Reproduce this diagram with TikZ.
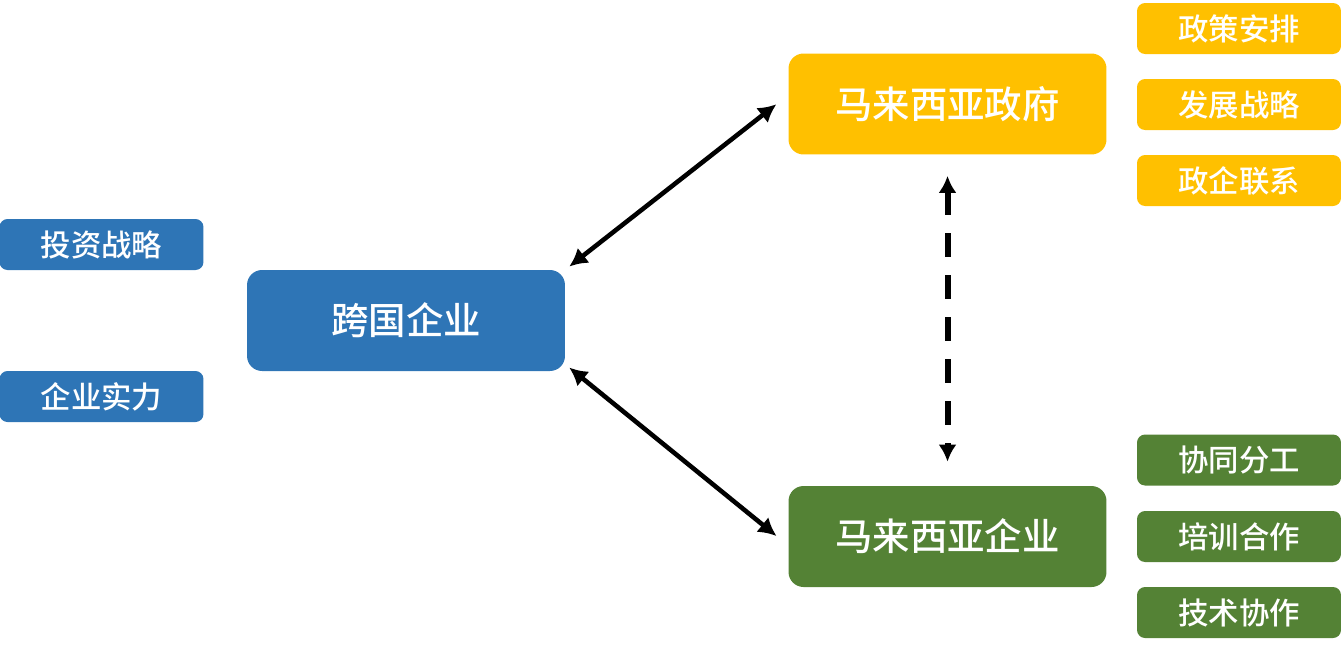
\documentclass[tikz,border=0pt]{standalone}
\usepackage{fontspec}
\newfontfamily\cjk{Noto Sans CJK SC}[BoldFont={Noto Sans CJK SC Medium}]
\usetikzlibrary{arrows.meta}
\definecolor{blueBox}{HTML}{2E75B6}
\definecolor{goldBox}{HTML}{FFC000}
\definecolor{greenBox}{HTML}{548235}

\begin{document}
\begin{tikzpicture}[x=0.02cm,y=-0.02cm]
    \useasboundingbox (0,0) rectangle (1341,650);

        \begin{scope}[every node/.style={rounded corners=0.3cm,minimum width=6.36cm,minimum height=2.02cm,text=white,font=\cjk\bfseries\fontsize{21.3}{25}\selectfont}]
            \node[fill=blueBox] (1) at (406,320.5) {跨国企业};
            \node[fill=goldBox] (2) at (947.5,104) {马来西亚政府};
            \node[fill=greenBox] (3) at (947.5,536.5) {马来西亚企业};
        \end{scope}

        \begin{scope}[every node/.style={rounded corners=0.16cm,minimum width=4.08cm,minimum height=1.02cm,text=white,font=\cjk\bfseries\fontsize{17.3}{20}\selectfont}]
            \node[fill=blueBox] (4) at (101.5,244.5) {投资战略};
            \node[fill=blueBox] (5) at (101.5,396.5) {企业实力};
            \node[fill=goldBox] (6) at (1239,28.5) {政策安排};
            \node[fill=goldBox] (7) at (1239,104.5) {发展战略};
            \node[fill=goldBox] (8) at (1239,180.5) {政企联系};
            \node[fill=greenBox] (9) at (1239,460) {协同分工};
            \node[fill=greenBox] (10) at (1239,536.5) {培训合作};
            \node[fill=greenBox] (11) at (1239,612.5) {技术协作};
        \end{scope}

        \begin{scope}[every edge/.style={draw=black,line width=2.6pt}, >={Latex[length=0.36cm,width=0.38cm]}]
            \path [<->] (1.north east) edge [shorten <=0.1cm, shorten >=0.3cm] ([yshift=0.18cm]2.west);
            \path [<->] ([yshift=0.14cm]1.south east) edge [shorten <=0.1cm, shorten >=0.3cm] ([yshift=-0.18cm]3.west);
        \end{scope}

        \begin{scope}[every edge/.style={draw=black,line width=3.4pt,dash pattern=on 0.48cm off 0.36cm}, >={Latex[length=0.34cm,width=0.36cm]}]
            \path [<->] (2.south) edge [shorten <=0.42cm, shorten >=0.48cm] (3.north);
        \end{scope}

    \end{tikzpicture}
\end{document}
